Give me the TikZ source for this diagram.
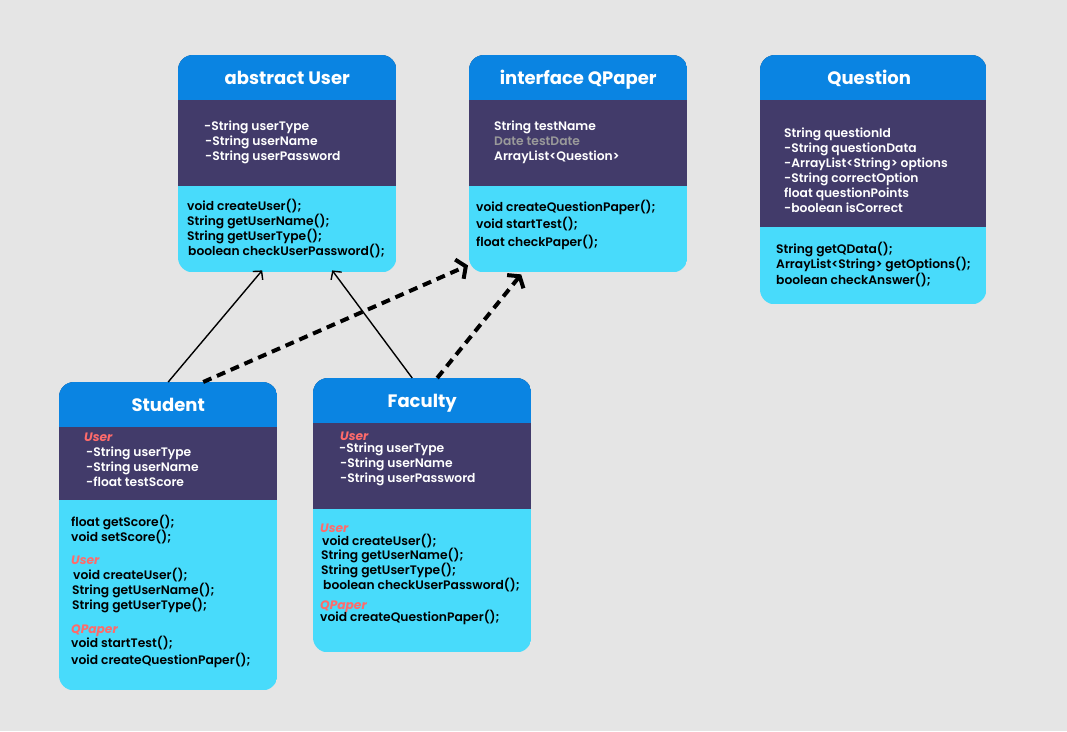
\documentclass[tikz,border=0pt]{standalone}
\usepackage{fontspec}
\setmainfont{Poppins}
\newfontfamily\medfont{Poppins SemiBold}
\usetikzlibrary{arrows.meta,calc}
\definecolor{bg}{HTML}{E5E5E5}
\definecolor{hdr}{HTML}{0A84E2}
\definecolor{mid}{HTML}{423B6A}
\definecolor{low}{HTML}{48DBFB}
\definecolor{tagred}{HTML}{FF6B6B}
\definecolor{dim}{HTML}{9A9A9A}
\newcommand\classbox[9]{% name x y w h yh yp title title-xshift
  \node[boxnode, minimum width=#4pt, minimum height=#5pt, anchor=north west] (#1) at (#2,#3) {};
  \begin{scope}
    \clip[rounded corners=15pt] (#1.north west) rectangle (#1.south east);
    \fill[low] (#1.north west) rectangle (#1.south east);
    \fill[mid] (#1.north west) rectangle (#1.east |- 0,#7);
    \fill[hdr] (#1.north west) rectangle (#1.east |- 0,#6);
  \end{scope}
  \node[titletext, xshift=#9pt] (#1-title) at ($(#1.north)!0.5!(#1.north |- 0,#6)$) {#8};}
\newcommand\tx[5][]{\node[tl,#1] (#2) at (#3,#4) {#5};}
\tikzset{
  boxnode/.style={inner sep=0pt, draw=none},
  titletext/.style={text=white, font=\fontsize{18}{22}\selectfont\bfseries, inner sep=0pt, text height=13pt, text depth=0pt},
  tl/.style={anchor=west, inner sep=0pt, text height=10pt, text depth=1.5pt, font=\medfont\fontsize{12.3}{14}\selectfont},
  lt/.style={text=white},
  dk/.style={text=black},
  gr/.style={text=dim},
  rd/.style={text=tagred, font=\fontsize{12.2}{14}\selectfont\bfseries\itshape},
  inherit/.style={draw=black, line width=1.4pt, -{Straight Barb[length=6pt,width=13pt]}},
  realize/.style={draw=black, line width=4pt, dash pattern=on 9pt off 6pt, -{Straight Barb[length=7pt,width=21pt,line width=4pt]}},
}
\begin{document}
\begin{tikzpicture}[x=1pt,y=-1pt]
\fill[bg] (0,0) rectangle (1067,731);
\useasboundingbox (0,0) rectangle (1067,731);

\classbox{user}{178}{55}{218}{217}{100}{186}{abstract User}{0}
\classbox{qpaper}{469}{55}{218}{217}{100}{186}{interface QPaper}{0}
\classbox{question}{760}{55}{226}{249}{100}{227}{Question}{-4}
\classbox{student}{59}{382}{218}{308}{427}{500}{Student}{0}
\classbox{faculty}{313}{378}{218}{274}{423}{509}{Faculty}{0}

% abstract User
\tx[lt]{u1}{204}{126}{-String userType}
\tx[lt]{u2}{205}{141}{-String userName}
\tx[lt]{u3}{205}{156}{-String userPassword}
\tx[dk]{u4}{187}{206}{void createUser();}
\tx[dk]{u5}{187}{221}{String getUserName();}
\tx[dk]{u6}{187}{236}{String getUserType();}
\tx[dk]{u7}{188}{251}{boolean checkUserPassword();}

% interface QPaper
\tx[lt]{q1}{494}{126}{String testName}
\tx[gr]{q2}{494}{141}{Date testDate}
\tx[lt]{q3}{494}{156}{ArrayList<Question>}
\tx[dk]{q4}{476}{207}{void createQuestionPaper();}
\tx[dk]{q5}{476}{224}{void startTest();}
\tx[dk]{q6}{476}{242}{float checkPaper();}

% Question
\tx[lt]{r1}{784}{133}{String questionId}
\tx[lt]{r2}{784}{148}{-String questionData}
\tx[lt]{r3}{784}{163}{-ArrayList<String> options}
\tx[lt]{r4}{784}{178}{-String correctOption}
\tx[lt]{r5}{784}{193}{float questionPoints}
\tx[lt]{r6}{784}{208}{-boolean isCorrect}
\tx[dk]{r7}{776}{249}{String getQData();}
\tx[dk]{r8}{776}{264}{ArrayList<String> getOptions();}
\tx[dk]{r9}{776}{280}{boolean checkAnswer();}

% Student
\tx[rd]{s0}{84}{437}{User}
\tx[lt]{s1}{86}{452}{-String userType}
\tx[lt]{s2}{86}{467}{-String userName}
\tx[lt]{s3}{86}{482}{-float testScore}
\tx[dk]{s4}{71}{522}{float getScore();}
\tx[dk]{s5}{71}{537}{void setScore();}
\tx[rd]{s6}{71}{560}{User}
\tx[dk]{s7}{73}{575}{void createUser();}
\tx[dk]{s8}{72}{590}{String getUserName();}
\tx[dk]{s9}{72}{605}{String getUserType();}
\tx[rd]{s10}{71}{629}{QPaper}
\tx[dk]{s11}{71}{643}{void startTest();}
\tx[dk]{s12}{71}{660}{void createQuestionPaper();}

% Faculty
\tx[rd]{f0}{340}{436}{User}
\tx[lt]{f1}{339}{448}{-String userType}
\tx[lt]{f2}{340}{463}{-String userName}
\tx[lt]{f3}{340}{478}{-String userPassword}
\tx[rd]{f4}{320}{528}{User}
\tx[dk]{f5}{322}{541}{void createUser();}
\tx[dk]{f6}{321}{555}{String getUserName();}
\tx[dk]{f7}{321}{570}{String getUserType();}
\tx[dk]{f8}{323}{585}{boolean checkUserPassword();}
\tx[rd]{f9}{320}{605}{QPaper}
\tx[dk]{f10}{320}{617}{void createQuestionPaper();}

% connectors
\draw[inherit] (student.north) -- ($(user.south)+(-25,-2)$);
\draw[inherit] ($(faculty.north)+(-10,0)$) -- ($(user.south)+(45,-2)$);
\draw[realize] ($(student.north)+(35,0)$) -- ($(qpaper.south west)+(-1,-7)$);
\draw[realize] ($(faculty.north)+(15,0)$) -- ($(qpaper.south)+(-57,2)$);
\end{tikzpicture}
\end{document}
